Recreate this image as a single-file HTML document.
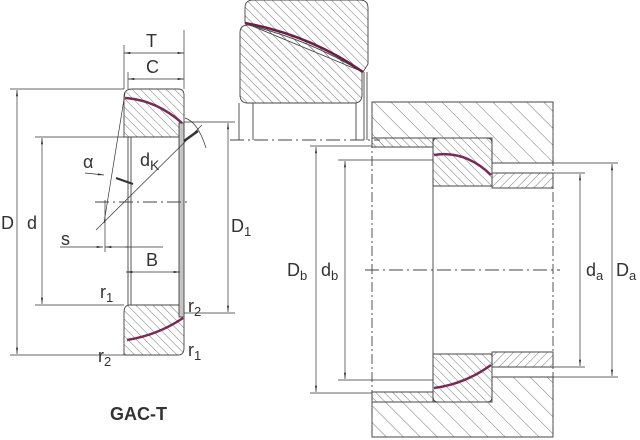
<!DOCTYPE html>
<html><head><style>
html,body{margin:0;padding:0;background:#fff;}
svg{display:block;}
text{font-family:"Liberation Sans",sans-serif;fill:#333;}
</style></head><body>
<svg width="640" height="440" viewBox="0 0 640 440" xmlns="http://www.w3.org/2000/svg">
<defs>
<pattern id="h" width="6" height="6" patternUnits="userSpaceOnUse" patternTransform="rotate(45)"><line x1="0" y1="0" x2="0" y2="6" stroke="#666" stroke-width="0.9"/></pattern>
<pattern id="h2" width="6" height="6" patternUnits="userSpaceOnUse" patternTransform="rotate(-45)"><line x1="0" y1="0" x2="0" y2="6" stroke="#666" stroke-width="0.9"/></pattern>
<pattern id="hb" width="12" height="12" patternUnits="userSpaceOnUse" patternTransform="rotate(-45)"><line x1="0" y1="0" x2="0" y2="12" stroke="#666" stroke-width="0.9"/></pattern>
<marker id="a" viewBox="0 0 10 10" refX="10" refY="5" markerWidth="9" markerHeight="9" orient="auto-start-reverse"><path d="M0,3.5 L10,5 L0,6.5 z" fill="#222"/></marker>
</defs>
<g stroke="#444" stroke-width="0.9" fill="none">
<path d="M124,97 Q124,89 132,89 L178,89 Q184,89 184,95 L184,137 L124,137 Z" fill="url(#h2)"/>
<path d="M125,98 Q156,100 182,123" stroke="#7a2a55" stroke-width="2.5"/>
<path d="M124,355 L124,312 Q124,305 130,305 L184,305 L184,348 Q184,355 178,355 Z" fill="url(#h2)"/>
<path d="M127,340 Q158,335 183,318" stroke="#7a2a55" stroke-width="2.5"/>
<line x1="128" y1="137" x2="128" y2="305"/><line x1="131" y1="137" x2="131" y2="305"/>
<rect x="179" y="123" width="5" height="194" fill="#c4c4c4"/>
<path d="M245,8 Q245,0 253,0 L360,0 Q368,0 368,8 L368,64 L363,72 L245,23 Z" fill="url(#h2)"/>
<path d="M240,33 Q240,25 248,25 Q310,40 362,72 L362,95 Q362,103 354,103 L248,103 Q240,103 240,95 Z" fill="url(#h2)"/>
<path d="M245,23 Q310,35 363,72" stroke="#6a1f45" stroke-width="2.5"/>
<line x1="239" y1="103" x2="239" y2="140"/><line x1="253" y1="103" x2="253" y2="140"/><line x1="356" y1="103" x2="356" y2="140"/>
<line x1="364" y1="72" x2="364" y2="140"/><line x1="367" y1="72" x2="367" y2="140"/>
<path d="M372,102 L553,102 L553,163 L492,163 L492,138 L372,138 Z" fill="url(#hb)"/>
<path d="M372,138 L433,138 L433,147 L372,147 Z" fill="url(#h2)"/>
<path d="M492,173 L553,173 L553,188 L492,188 Z" fill="url(#h)"/>
<path d="M433,143 Q433,138 438,138 L487,138 Q492,138 492,143 L492,186 L433,186 Z" fill="url(#h2)"/>
<path d="M434,155 Q465,150 491,175" stroke="#7a2a55" stroke-width="2.5"/>
<path d="M372,437 L553,437 L553,377 L492,377 L492,402 L372,402 Z" fill="url(#hb)"/>
<path d="M372,392 L433,392 L433,402 L372,402 Z" fill="url(#h2)"/>
<path d="M492,352 L553,352 L553,367 L492,367 Z" fill="url(#h)"/>
<path d="M433,354 L492,354 L492,397 Q492,402 487,402 L438,402 Q433,402 433,397 Z" fill="url(#h2)"/>
<path d="M434,388 Q465,384 491,365" stroke="#7a2a55" stroke-width="2.5"/>
<line x1="433" y1="147" x2="433" y2="392"/>
<line x1="372" y1="102" x2="372" y2="437" stroke-dasharray="10,3,2,3"/>
<line x1="553" y1="102" x2="553" y2="437" stroke-dasharray="10,3,2,3"/>
<line x1="365" y1="270" x2="560" y2="270" stroke-dasharray="14,4,2,4"/>
<line x1="95" y1="202" x2="190" y2="202" stroke-dasharray="14,4,2,4"/>
<line x1="230" y1="140" x2="380" y2="140" stroke-dasharray="14,4,2,4"/>
</g>
<g stroke="#333" stroke-width="0.7" fill="none">
<line x1="10" y1="89" x2="124" y2="89"/><line x1="10" y1="355" x2="124" y2="355"/>
<line x1="35" y1="137" x2="124" y2="137"/><line x1="35" y1="305" x2="124" y2="305"/>
<line x1="184" y1="122" x2="235" y2="122"/><line x1="184" y1="313" x2="235" y2="313"/>
<line x1="17" y1="90" x2="17" y2="354" marker-start="url(#a)" marker-end="url(#a)"/>
<line x1="42" y1="138" x2="42" y2="304" marker-start="url(#a)" marker-end="url(#a)"/>
<line x1="228" y1="123" x2="228" y2="312" marker-start="url(#a)" marker-end="url(#a)"/>
<line x1="124" y1="45" x2="124" y2="89"/><line x1="184" y1="30" x2="184" y2="89"/><line x1="128" y1="72" x2="128" y2="89"/>
<line x1="124" y1="53" x2="184" y2="53" marker-start="url(#a)" marker-end="url(#a)"/>
<line x1="128" y1="79" x2="184" y2="79" marker-start="url(#a)" marker-end="url(#a)"/>
<line x1="126" y1="272" x2="180" y2="272" marker-start="url(#a)" marker-end="url(#a)"/>
<line x1="60" y1="247" x2="103" y2="247" marker-end="url(#a)"/>
<line x1="125" y1="247" x2="163" y2="247"/>
<line x1="128" y1="247" x2="105" y2="247" marker-end="url(#a)"/>
<line x1="105" y1="200" x2="105" y2="252"/>
<line x1="104" y1="223" x2="125" y2="93"/>
<line x1="96" y1="230" x2="202" y2="125"/>
<path d="M185,118 Q198,122 206,148"/>
<line x1="85" y1="173" x2="104" y2="175" marker-end="url(#a)"/>
<line x1="116" y1="178" x2="133" y2="184" stroke-width="2.2"/>
<line x1="184" y1="141" x2="198" y2="131" stroke-width="2.5"/>
<line x1="310" y1="146" x2="372" y2="146"/><line x1="310" y1="393" x2="372" y2="393"/>
<line x1="338" y1="160" x2="433" y2="160"/><line x1="338" y1="380" x2="433" y2="380"/>
<line x1="553" y1="163" x2="618" y2="163"/><line x1="553" y1="377" x2="618" y2="377"/>
<line x1="553" y1="173" x2="585" y2="173"/><line x1="553" y1="367" x2="585" y2="367"/>
<line x1="316" y1="147" x2="316" y2="392" marker-start="url(#a)" marker-end="url(#a)"/>
<line x1="345" y1="161" x2="345" y2="379" marker-start="url(#a)" marker-end="url(#a)"/>
<line x1="580" y1="174" x2="580" y2="366" marker-start="url(#a)" marker-end="url(#a)"/>
<line x1="612" y1="164" x2="612" y2="376" marker-start="url(#a)" marker-end="url(#a)"/>
</g>
<g font-size="18">
<text x="1" y="229">D</text><text x="27" y="229">d</text>
<text x="231" y="232">D<tspan font-size="13" dy="4">1</tspan></text>
<text x="146" y="47">T</text><text x="146" y="73">C</text>
<text x="146" y="266">B</text><text x="61" y="245">s</text>
<text x="83" y="168" font-family="Liberation Serif">α</text>
<text x="140" y="166">d<tspan font-size="14" dy="4">K</tspan></text>
<text x="100" y="298">r<tspan font-size="13" dy="4">1</tspan></text>
<text x="188" y="312">r<tspan font-size="13" dy="4">2</tspan></text>
<text x="98" y="362">r<tspan font-size="13" dy="4">2</tspan></text>
<text x="188" y="356">r<tspan font-size="13" dy="4">1</tspan></text>
<text x="287" y="276">D<tspan font-size="13" dy="4">b</tspan></text>
<text x="321" y="276">d<tspan font-size="13" dy="4">b</tspan></text>
<text x="586" y="276">d<tspan font-size="13" dy="4">a</tspan></text>
<text x="616" y="276">D<tspan font-size="13" dy="4">a</tspan></text>
<text x="110" y="420" font-weight="bold" font-size="18" fill="#111">GAC-T</text>
</g>
</svg>
</body></html>
